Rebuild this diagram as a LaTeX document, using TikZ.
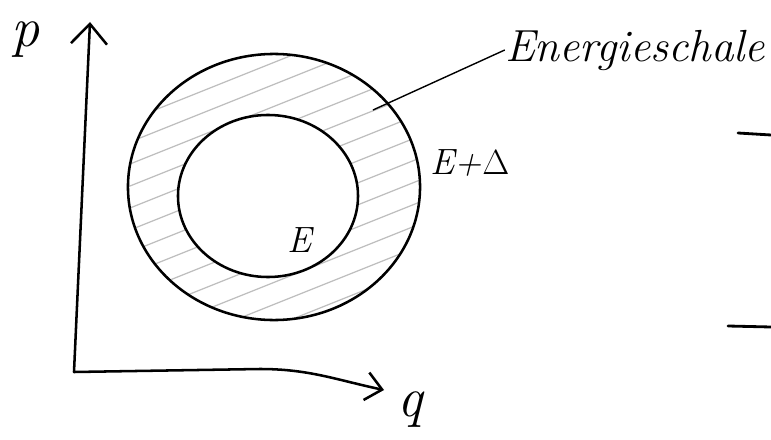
\documentclass[tikz,border=0pt]{standalone}
\usetikzlibrary{arrows.meta,positioning}
\begin{document}
\begin{tikzpicture}[
  x=0.025cm, y=-0.025cm,
  axis/.style={line width=1.8pt,line cap=round,line join=round},
  shell/.style={draw,line width=1.8pt},
  hatch/.style={gray!50,line width=0.9pt},
  hand/.style={font=\fontsize{26}{28}\selectfont\itshape,inner sep=0pt},
  bigbarb/.style={-{Straight Barb[length=5mm,width=9mm]}},
  smallbarb/.style={-{Straight Barb[length=4mm,width=7mm]}}
]
\useasboundingbox (0,0) rectangle (771,440);
\coordinate (origin) at (74,372);
\coordinate (ptip) at (90,22);
\coordinate (qtip) at (384,390);
\coordinate (shellpt) at (373,110);
% hatching of the shell
\begin{scope}[even odd rule]
  \clip (274,187) ellipse [x radius=3.65cm,y radius=3.325cm]
        (268,196) ellipse [x radius=2.25cm,y radius=2.025cm];
  \foreach \k in {0,...,26}
    \draw[hatch] (110,40+\k*22) -- ++(340,-136);
\end{scope}
% energy surfaces
\draw[shell] (274,187) ellipse [x radius=3.65cm,y radius=3.325cm];
\draw[shell] (268,196) ellipse [x radius=2.25cm,y radius=2.025cm];
% Axes
\draw[axis,bigbarb] (origin) -- (ptip);
\draw[axis,smallbarb] (origin) -- (260,369) to[out=0,in=168] (qtip);
\node[hand,font=\fontsize{40}{42}\selectfont\itshape] (plabel) at (26,40) {p};
\node[hand,font=\fontsize{40}{42}\selectfont\itshape] (qlabel) at (410,410) {q};
% Labels
\node[hand,font=\fontsize{32}{34}\selectfont\itshape] (shelllabel) at (635,50) {Energieschale};
\node[hand] (outerlabel) at (470,163) {E+$\Delta$};
\node[hand] (innerlabel) at (300,240) {E};
\draw[line width=1pt] (shellpt) -- (shelllabel.west);
% margin marks
\draw[axis,line width=2pt] (738,133) -- (771,135);
\draw[axis,line width=2pt] (728,326) -- (771,327);
\end{tikzpicture}
\end{document}
